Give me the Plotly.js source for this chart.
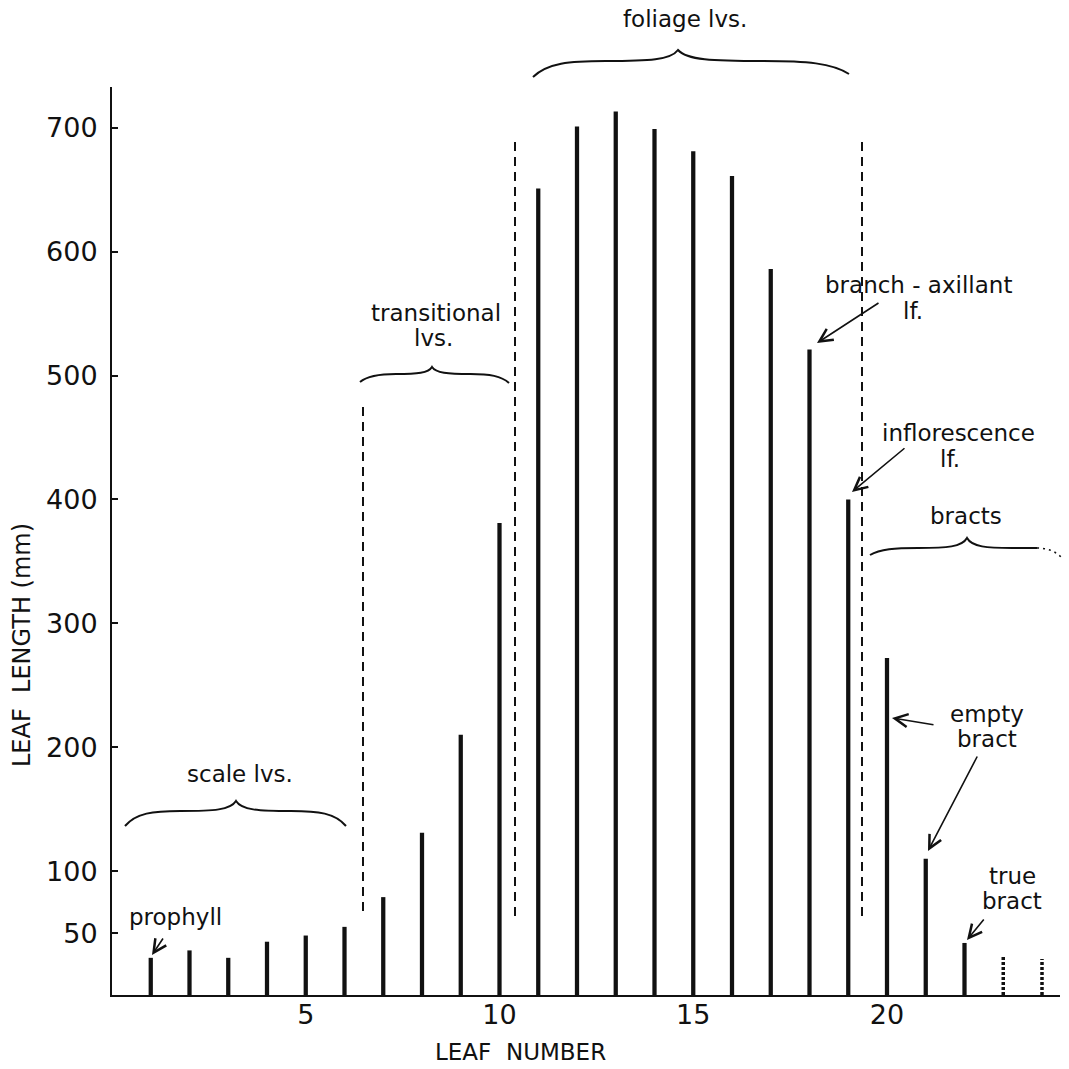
<!DOCTYPE html>
<html>
<head>
<meta charset="utf-8">
<script src="https://cdn.plot.ly/plotly-3.0.1.min.js"></script>
<style>html,body{margin:0;padding:0;background:#fff;}#chart{width:1069px;height:1069px;}</style>
</head>
<body>
<div id="chart"></div>
<script>
// ---- data ----
var leafNumber = [1,2,3,4,5,6,7,8,9,10,11,12,13,14,15,16,17,18,19,20,21,22];
var leafLength = [30,36,30,43,48,55,79,131,210,381,651,701,713,699,681,661,586,521,400,272,110,42];
var dottedLeafNumber = [23,24];
var dottedLeafLength = [31,29];
var xTickVals = [5,10,15,20];
var yTickVals = [50,100,200,300,400,500,600,700];

// ---- geometry helpers (pixel -> paper) for decorations ----
var L = 112, T = 87, W = 948, H = 908;
function X(px){ return (px - L) / W; }
function Y(py){ return (T + H - py) / H; }
function P(px, py){ return X(px).toFixed(5) + ',' + Y(py).toFixed(5); }

function brace(x1, x2, xc, yEndL, yEndR, yMid, yPeak){
  var hl = xc - x1, hr = x2 - xc;
  return 'M' + P(x1, yEndL) +
    ' C' + P(x1 + 0.1*hl, yMid + 2) + ' ' + P(x1 + 0.25*hl, yMid) + ' ' + P(x1 + 0.5*hl, yMid) +
    ' C' + P(x1 + 0.8*hl, yMid) + ' ' + P(xc - 0.05*hl, yMid - 1) + ' ' + P(xc, yPeak) +
    ' C' + P(xc + 0.05*hr, yMid - 1) + ' ' + P(x2 - 0.8*hr, yMid) + ' ' + P(x2 - 0.5*hr, yMid) +
    ' C' + P(x2 - 0.25*hr, yMid) + ' ' + P(x2 - 0.1*hr, yMid + 2) + ' ' + P(x2, yEndR);
}

var ink = '#111';
var shapes = [];
function addPath(path, dash, width){
  shapes.push({type:'path', xref:'paper', yref:'paper', path:path,
    line:{color:ink, width:width || 2, dash:dash || 'solid'}});
}
function addLine(x0, y0, x1, y1, dash){
  shapes.push({type:'line', xref:'paper', yref:'paper', x0:X(x0), y0:Y(y0), x1:X(x1), y1:Y(y1),
    line:{color:ink, width:2, dash:dash || 'solid'}});
}

// braces
addPath(brace(125, 346, 236, 826, 826, 811, 801));
addPath(brace(360, 509, 432, 382, 383, 374, 367));
addPath(brace(533, 849, 678, 77, 74, 61, 50));
// bracts brace (right part trails off dotted)
var bx1 = 870, bxc = 967, bpk = 538, bmid = 548;
addPath('M' + P(bx1, 555) +
  ' C' + P(bx1 + 10, bmid + 1) + ' ' + P(bx1 + 25, bmid) + ' ' + P(bx1 + 48, bmid) +
  ' C' + P(bxc - 20, bmid) + ' ' + P(bxc - 5, bmid - 1) + ' ' + P(bxc, bpk) +
  ' C' + P(bxc + 5, bmid - 1) + ' ' + P(bxc + 20, bmid) + ' ' + P(bxc + 45, bmid) +
  ' L' + P(1037, bmid));
addPath('M' + P(1037, bmid) + ' C' + P(1047, bmid) + ' ' + P(1055, bmid + 3) + ' ' + P(1061, 557), '2px,4px', 1.5);

// dashed separators
addLine(363, 407, 363, 912, '9px,6px');
addLine(515, 142, 515, 920, '9px,6px');
addLine(862, 142, 862, 917, '9px,6px');

// ---- annotations ----
var fontFam = 'DejaVu Sans, sans-serif';
var annotations = [];
function addText(txt, cx, cy, size, angle){
  annotations.push({xref:'paper', yref:'paper', x:X(cx), y:Y(cy), text:txt, showarrow:false,
    textangle: angle || 0,
    xanchor:'center', yanchor:'middle', font:{family:fontFam, size:size || 23, color:ink}});
}
function addArrow(tx, ty, hx, hy){
  annotations.push({xref:'paper', yref:'paper', x:X(hx), y:Y(hy), ax:tx - hx, ay:ty - hy,
    text:'', showarrow:true, arrowhead:5, arrowsize:1.6, arrowwidth:1.6, arrowcolor:ink, standoff:0});
}

addText('foliage lvs.', 685, 19);
addText('transitional', 436, 313);
addText('lvs.', 433, 338);
addText('scale lvs.', 240, 774);
addText('prophyll', 175, 917);
addText('branch - axillant', 918, 285);
addText('lf.', 913, 311);
addText('inflorescence', 958, 433);
addText('lf.', 950, 459);
addText('bracts', 966, 516);
addText('empty', 987, 714);
addText('bract', 987, 739);
addText('true', 1012, 876);
addText('bract', 1012, 901);
// axis titles
addText('LEAF  NUMBER', 520, 1052, 23);
addText('LEAF  LENGTH (mm)', 22, 645, 24, -90);

addArrow(164, 937, 152, 955);
addArrow(880, 302, 817, 343);
addArrow(906, 447, 852, 492);
addArrow(935, 725, 892, 718);
addArrow(978, 755, 928, 851);
addArrow(985, 918, 967, 940);

// ---- traces ----
var traces = [{
  type:'bar', x:leafNumber, y:leafLength, width:0.11,
  marker:{color:ink, line:{width:0}}, hoverinfo:'x+y'
}];
for (var i = 0; i < dottedLeafNumber.length; i++) {
  traces.push({
    type:'scatter', mode:'lines',
    x:[dottedLeafNumber[i], dottedLeafNumber[i]], y:[0, dottedLeafLength[i]],
    line:{color:ink, width:3.5, dash:'3px,2px'}, hoverinfo:'x+y'
  });
}

var layout = {
  width:1069, height:1069,
  margin:{l:L, r:1069 - L - W, t:T, b:1069 - T - H, pad:0},
  paper_bgcolor:'#fff', plot_bgcolor:'#fff',
  showlegend:false,
  font:{family:fontFam, color:ink},
  xaxis:{
    range:[0, W / 38.75], showgrid:false, zeroline:false,
    showline:true, linecolor:ink, linewidth:2,
    tickvals:xTickVals, ticktext:xTickVals.map(String), ticks:'',
    ticklabelstandoff:-5,
    tickfont:{family:fontFam, size:27, color:ink}
  },
  yaxis:{
    range:[0, H / 1.239], showgrid:false, zeroline:false,
    showline:true, linecolor:ink, linewidth:2,
    tickvals:yTickVals, ticktext:yTickVals.map(String),
    ticks:'inside', ticklen:6, tickwidth:2, tickcolor:ink,
    ticklabelstandoff:7,
    tickfont:{family:fontFam, size:27, color:ink}
  },
  shapes:shapes,
  annotations:annotations
};

Plotly.newPlot('chart', traces, layout, {displayModeBar:false, staticPlot:true});
</script>
</body>
</html>
